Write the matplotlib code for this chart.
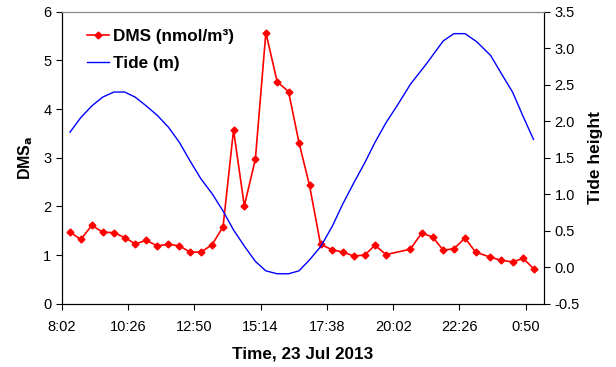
import matplotlib
matplotlib.use("Agg")
import matplotlib.pyplot as plt
from matplotlib.lines import Line2D

plt.rcParams['font.family'] = ['Liberation Sans', 'DejaVu Sans']

# hours after 8:02, 23 Jul 2013
dms_time = [0.30, 0.69, 1.09, 1.48, 1.89, 2.28, 2.66, 3.06, 3.46, 3.86, 4.26,
            4.64, 5.04, 5.44, 5.84, 6.22, 6.61, 7.01, 7.39, 7.80, 8.21, 8.59,
            8.97, 9.37, 9.78, 10.18, 10.58, 10.97, 11.34, 11.74, 12.62, 13.03,
            13.43, 13.81, 14.20, 14.60, 14.98, 15.50, 15.91, 16.32, 16.71, 17.08]
dms = [1.47, 1.32, 1.61, 1.47, 1.46, 1.36, 1.23, 1.30, 1.19, 1.22, 1.19,
       1.06, 1.06, 1.21, 1.58, 3.57, 2.01, 2.97, 5.57, 4.56, 4.36, 3.31,
       2.43, 1.22, 1.11, 1.06, 0.98, 1.00, 1.20, 1.01, 1.12, 1.45,
       1.37, 1.10, 1.13, 1.35, 1.06, 0.96, 0.89, 0.86, 0.93, 0.72]

tide_time = [0.30, 0.69, 1.09, 1.48, 1.89, 2.28, 2.66, 3.06, 3.46, 3.86, 4.26,
             4.64, 5.04, 5.44, 5.84, 6.22, 6.61, 7.01, 7.39, 7.80, 8.21, 8.59,
             8.97, 9.37, 9.78, 10.18, 10.58, 10.97, 11.34, 11.74, 12.12, 12.63,
             13.21, 13.81, 14.20, 14.60, 15.02, 15.53, 15.92, 16.32, 16.71, 17.08]
tide = [1.85, 2.05, 2.21, 2.33, 2.40, 2.40, 2.33, 2.21, 2.08, 1.92, 1.71,
        1.46, 1.21, 1.01, 0.77, 0.51, 0.29, 0.08, -0.05, -0.09, -0.09, -0.05,
        0.10, 0.28, 0.55, 0.87, 1.16, 1.43, 1.71, 1.98, 2.20, 2.51,
        2.79, 3.10, 3.20, 3.20, 3.09, 2.90, 2.65, 2.40, 2.06, 1.75]

tick_pos = [0, 2.4, 4.8, 7.2, 9.6, 12.0, 14.4, 16.8]
tick_labels = ['8:02', '10:26', '12:50', '15:14', '17:38', '20:02', '22:26', '0:50']
tide_ticks = [-0.5, 0.0, 0.5, 1.0, 1.5, 2.0, 2.5, 3.0, 3.5]

fig = plt.figure(figsize=(6.16, 3.67), dpi=100)
ax = fig.add_axes([0.1002, 0.1725, 0.7834, 0.7955])
ax2 = ax.twinx()

ax.plot(dms_time, dms, color='red', lw=1.2, marker='D', ms=3.5, zorder=3)
ax2.plot(tide_time, tide, color='blue', lw=1.0)

ax.set_xlim(0, 17.47)
ax.set_ylim(0, 6)
ax2.set_ylim(-0.5, 3.5)
ax.set_xticks(tick_pos)
ax.set_xticklabels(tick_labels)
ax.set_yticks(range(0, 7))
ax2.set_yticks(tide_ticks)
ax2.set_yticklabels([f'{t:.1f}' for t in tide_ticks])

for a in (ax, ax2):
    a.tick_params(direction='out', length=4, width=0.8, labelsize=10.5, colors='black')
ax.tick_params(axis='x', pad=8)
ax.spines['top'].set_color('#888888')
ax2.spines['top'].set_color('#888888')

ax.set_xlabel('Time, 23 Jul 2013', fontsize=12.3, fontweight='bold', labelpad=9)
ax.set_ylabel('DMS$_\\mathbf{a}$', fontsize=11.5, fontweight='bold', labelpad=6)
ax2.set_ylabel('Tide height', fontsize=12.5, fontweight='bold', labelpad=6)

handles = [Line2D([], [], color='red', lw=1.2, marker='D', ms=3.5),
           Line2D([], [], color='blue', lw=1.0)]
ax.legend(handles, ['DMS (nmol/m³)', 'Tide (m)'], loc='upper left',
          bbox_to_anchor=(0.02, 0.995), frameon=False, handlelength=1.3,
          handletextpad=0.25, labelspacing=0.7,
          prop={'weight': 'bold', 'size': 12.3})

fig.savefig('out.png', dpi=100)
